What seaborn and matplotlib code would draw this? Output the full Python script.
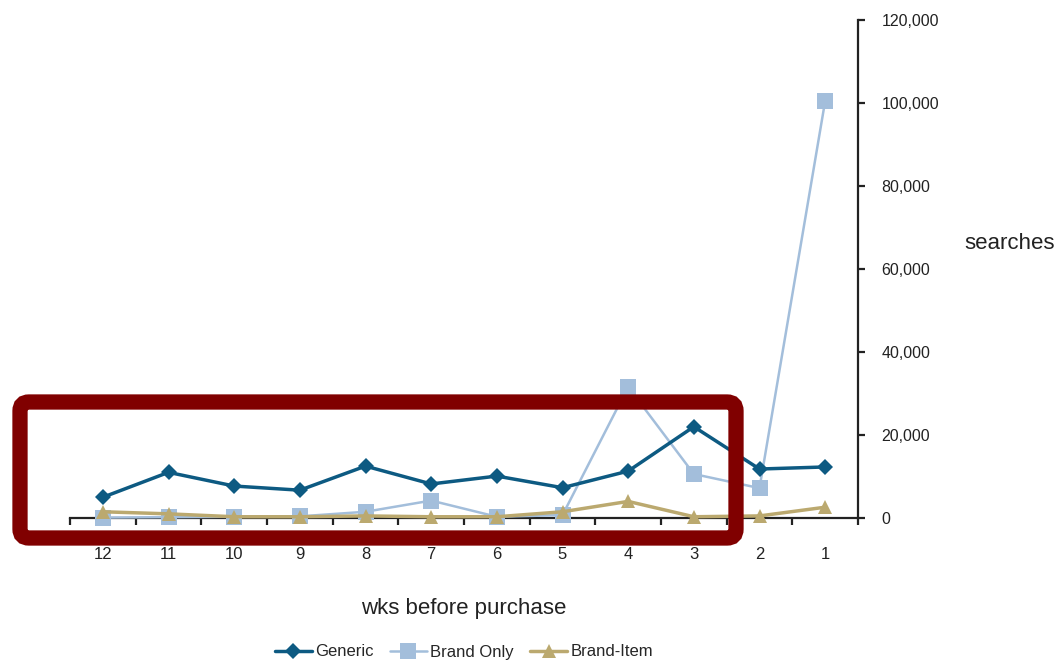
import matplotlib.pyplot as plt
import numpy as np
import seaborn as sns
from matplotlib.patches import FancyBboxPatch
from matplotlib.ticker import FuncFormatter, FixedLocator
from matplotlib.transforms import IdentityTransform

# Data
weeks = ["12", "11", "10", "9", "8", "7", "6", "5", "4", "3", "2", "1"]
generic = [5000, 11000, 7700, 6700, 12500, 8200, 10100, 7300, 11300, 22000, 11800, 12300]
brand_only = [100, 200, 300, 400, 1500, 4200, 300, 700, 31600, 10600, 7200, 100500]
brand_item = [1500, 1000, 300, 300, 500, 300, 300, 1500, 4000, 300, 500, 2600]

sns.set_style("ticks")
plt.rcParams["font.family"] = ["Liberation Sans", "DejaVu Sans"]

fig = plt.figure(figsize=(10.61, 6.64), dpi=100)
ax = fig.add_axes([70 / 1061, 1 - 518 / 664, 788 / 1061, 498 / 664])

series = [
    ("Generic", generic, "#0D5A82", "D", 8.5, 2.5, 5),
    ("Brand Only", brand_only, "#A3BEDB", "s", 11, 1.8, 3),
    ("Brand-Item", brand_item, "#BBA96F", "^", 10.5, 2.5, 4),
]
for name, vals, col, mk, ms, lw, z in series:
    sns.lineplot(x=weeks, y=vals, ax=ax, color=col, marker=mk, markersize=ms,
                 markeredgewidth=0, linewidth=lw, label=name, sort=False,
                 zorder=z, clip_on=False)

ax.set_xlim(-0.5, 11.5)
ax.set_ylim(0, 120000)

# right-hand y axis
sns.despine(ax=ax, left=True, top=True, right=False)
ax.yaxis.tick_right()
ax.spines["right"].set_linewidth(1.6)
ax.spines["bottom"].set_linewidth(1.6)
ax.spines["right"].set_color("#222222")
ax.spines["bottom"].set_color("#222222")
ax.set_yticks(np.arange(0, 120001, 20000))
ax.yaxis.set_major_formatter(FuncFormatter(lambda v, p: f"{int(v):,}"))
ax.tick_params(axis="y", which="major", direction="out", length=5, width=1.6,
               pad=12, labelsize=11.5, colors="#222222")

# x ticks at category boundaries, labels at centres
ax.xaxis.set_major_locator(FixedLocator(np.arange(-0.5, 12, 1)))
ax.xaxis.set_minor_locator(FixedLocator(np.arange(12)))
ax.set_xticklabels([""] * 13)
ax.set_xticks(np.arange(12), labels=weeks, minor=True)
ax.tick_params(axis="x", which="major", direction="out", length=5, width=1.6, color="#222222")
ax.tick_params(axis="x", which="minor", length=0, pad=21, labelsize=12, labelcolor="#222222")

ax.set_xlabel("wks before purchase", fontsize=16, labelpad=26, color="#222222")
ax.set_ylabel("searches", fontsize=16, rotation=0, color="#222222", ha="center", va="center")
ax.yaxis.set_label_position("right")
ax.yaxis.set_label_coords((1010 - 70) / 788, (518 - 233) / 498)

handles, labels = ax.get_legend_handles_labels()
ax.get_legend().remove()
fig.legend(handles, labels, loc="center", bbox_to_anchor=(464 / 1061, 1 - 652 / 664),
           ncol=3, frameon=False, fontsize=12, handlelength=2.2, handletextpad=0.2,
           columnspacing=1.0)

# highlight box (pixel coordinates)
box = FancyBboxPatch((20, 664 - 538), 716, 136,
                     boxstyle="round,pad=0,rounding_size=9",
                     transform=IdentityTransform(), fill=False,
                     edgecolor="#800000", linewidth=11, zorder=10)
fig.patches.append(box)

fig.savefig("out.png", dpi=100)
